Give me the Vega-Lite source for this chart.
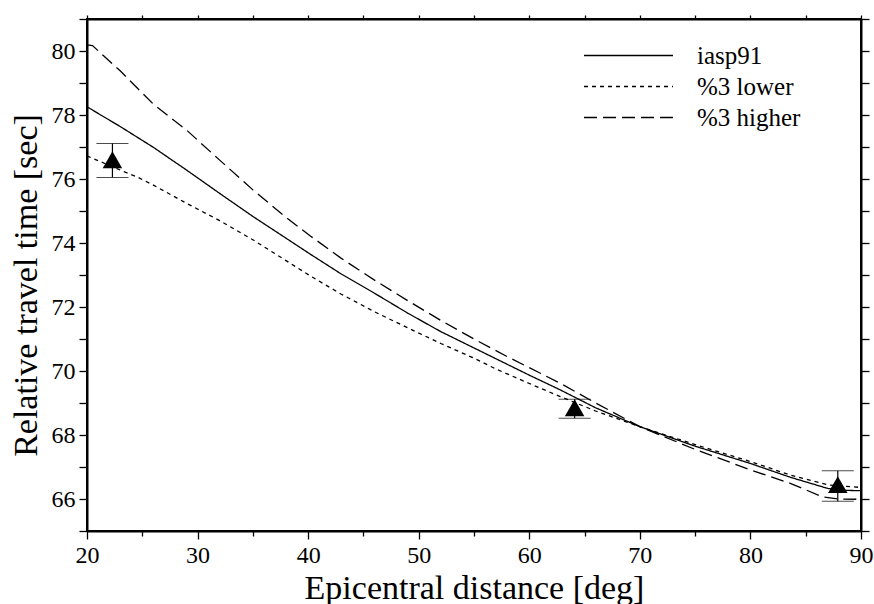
{
  "$schema": "https://vega.github.io/schema/vega-lite/v6.json",
  "width": 774,
  "height": 512,
  "autosize": {"type": "none"},
  "padding": {"left": 87, "top": 19, "right": 13, "bottom": 73},
  "background": "white",
  "config": {
    "font": "Liberation Serif",
    "view": {"stroke": "black", "strokeWidth": 2},
    "axis": {
      "domainColor": "black",
      "domainWidth": 2,
      "tickColor": "black",
      "tickWidth": 1.3,
      "grid": false,
      "labelFont": "Liberation Serif",
      "labelColor": "black",
      "labelFontSize": 24,
      "titleFont": "Liberation Serif",
      "titleColor": "black",
      "titleFontWeight": "normal",
      "titleFontSize": 34
    }
  },
  "resolve": {"axis": {"x": "independent", "y": "independent"}},
  "datasets": {
    "curves": [
      {"dist": 20, "time": 78.26, "model": "iasp91"},
      {"dist": 21, "time": 78.05, "model": "iasp91"},
      {"dist": 23, "time": 77.64, "model": "iasp91"},
      {"dist": 26, "time": 76.99, "model": "iasp91"},
      {"dist": 29, "time": 76.28, "model": "iasp91"},
      {"dist": 32, "time": 75.55, "model": "iasp91"},
      {"dist": 35, "time": 74.83, "model": "iasp91"},
      {"dist": 38, "time": 74.15, "model": "iasp91"},
      {"dist": 40.2, "time": 73.65, "model": "iasp91"},
      {"dist": 43, "time": 73.03, "model": "iasp91"},
      {"dist": 46, "time": 72.43, "model": "iasp91"},
      {"dist": 49, "time": 71.81, "model": "iasp91"},
      {"dist": 52, "time": 71.23, "model": "iasp91"},
      {"dist": 55, "time": 70.72, "model": "iasp91"},
      {"dist": 57, "time": 70.38, "model": "iasp91"},
      {"dist": 60, "time": 69.87, "model": "iasp91"},
      {"dist": 62.8, "time": 69.41, "model": "iasp91"},
      {"dist": 66, "time": 68.85, "model": "iasp91"},
      {"dist": 70, "time": 68.26, "model": "iasp91"},
      {"dist": 75, "time": 67.65, "model": "iasp91"},
      {"dist": 80, "time": 67.11, "model": "iasp91"},
      {"dist": 83.6, "time": 66.68, "model": "iasp91"},
      {"dist": 87, "time": 66.33, "model": "iasp91"},
      {"dist": 88.5, "time": 66.27, "model": "iasp91"},
      {"dist": 90, "time": 66.26, "model": "iasp91"},
      {"dist": 20, "time": 76.72, "model": "%3 lower"},
      {"dist": 23, "time": 76.28, "model": "%3 lower"},
      {"dist": 24.5, "time": 76.07, "model": "%3 lower"},
      {"dist": 26, "time": 75.81, "model": "%3 lower"},
      {"dist": 29, "time": 75.24, "model": "%3 lower"},
      {"dist": 32, "time": 74.7, "model": "%3 lower"},
      {"dist": 35, "time": 74.1, "model": "%3 lower"},
      {"dist": 38, "time": 73.45, "model": "%3 lower"},
      {"dist": 40.2, "time": 72.97, "model": "%3 lower"},
      {"dist": 43, "time": 72.4, "model": "%3 lower"},
      {"dist": 46, "time": 71.85, "model": "%3 lower"},
      {"dist": 49, "time": 71.35, "model": "%3 lower"},
      {"dist": 52, "time": 70.86, "model": "%3 lower"},
      {"dist": 55, "time": 70.4, "model": "%3 lower"},
      {"dist": 57, "time": 70.06, "model": "%3 lower"},
      {"dist": 60, "time": 69.61, "model": "%3 lower"},
      {"dist": 62.8, "time": 69.2, "model": "%3 lower"},
      {"dist": 66, "time": 68.75, "model": "%3 lower"},
      {"dist": 70, "time": 68.26, "model": "%3 lower"},
      {"dist": 75, "time": 67.7, "model": "%3 lower"},
      {"dist": 80, "time": 67.17, "model": "%3 lower"},
      {"dist": 83.6, "time": 66.75, "model": "%3 lower"},
      {"dist": 87, "time": 66.44, "model": "%3 lower"},
      {"dist": 90, "time": 66.36, "model": "%3 lower"},
      {"dist": 20, "time": 80.19, "model": "%3 higher"},
      {"dist": 20.5, "time": 80.17, "model": "%3 higher"},
      {"dist": 21.5, "time": 79.85, "model": "%3 higher"},
      {"dist": 23, "time": 79.38, "model": "%3 higher"},
      {"dist": 26, "time": 78.34, "model": "%3 higher"},
      {"dist": 29, "time": 77.53, "model": "%3 higher"},
      {"dist": 32, "time": 76.59, "model": "%3 higher"},
      {"dist": 35, "time": 75.66, "model": "%3 higher"},
      {"dist": 38, "time": 74.8, "model": "%3 higher"},
      {"dist": 40.2, "time": 74.22, "model": "%3 higher"},
      {"dist": 43, "time": 73.52, "model": "%3 higher"},
      {"dist": 46, "time": 72.84, "model": "%3 higher"},
      {"dist": 49, "time": 72.2, "model": "%3 higher"},
      {"dist": 52, "time": 71.58, "model": "%3 higher"},
      {"dist": 55, "time": 71.0, "model": "%3 higher"},
      {"dist": 58, "time": 70.45, "model": "%3 higher"},
      {"dist": 61, "time": 69.93, "model": "%3 higher"},
      {"dist": 63, "time": 69.58, "model": "%3 higher"},
      {"dist": 66, "time": 69.0, "model": "%3 higher"},
      {"dist": 70, "time": 68.26, "model": "%3 higher"},
      {"dist": 75, "time": 67.55, "model": "%3 higher"},
      {"dist": 80, "time": 66.91, "model": "%3 higher"},
      {"dist": 83.6, "time": 66.49, "model": "%3 higher"},
      {"dist": 86.5, "time": 66.07, "model": "%3 higher"},
      {"dist": 88, "time": 66.0, "model": "%3 higher"},
      {"dist": 90, "time": 65.99, "model": "%3 higher"}
    ],
    "obs": [
      {"dist": 22.3, "time": 76.6, "lo": 76.05, "hi": 77.11},
      {"dist": 64.1, "time": 68.85, "lo": 68.52, "hi": 69.12},
      {"dist": 87.9, "time": 66.45, "lo": 65.93, "hi": 66.88}
    ]
  },
  "layer": [
    {
      "data": {"name": "curves"},
      "mark": {"type": "line", "color": "black", "strokeWidth": 1.3, "clip": true},
      "encoding": {
        "x": {
          "field": "dist", "type": "quantitative",
          "scale": {"domain": [20, 90], "nice": false, "zero": false},
          "axis": {
            "orient": "bottom",
            "title": "Epicentral distance [deg]",
            "values": [20, 25, 30, 35, 40, 45, 50, 55, 60, 65, 70, 75, 80, 85, 90],
            "labelExpr": "datum.value % 10 === 0 ? datum.label : ''",
            "tickSize": {"condition": {"test": "datum.value % 10 === 0", "value": 8}, "value": 5},
            "labelPadding": 4,
            "titlePadding": 4,
            "labelFlush": false,
            "labelOverlap": false
          }
        },
        "y": {
          "field": "time", "type": "quantitative",
          "scale": {"domain": [65, 81], "nice": false, "zero": false},
          "axis": {
            "orient": "left",
            "title": "Relative travel time [sec]",
            "values": [65, 66, 67, 68, 69, 70, 71, 72, 73, 74, 75, 76, 77, 78, 79, 80, 81],
            "labelExpr": "datum.value % 2 === 0 ? datum.label : ''",
            "tickSize": 8,
            "labelPadding": 4,
            "titlePadding": 8,
            "titleY": 266,
            "labelFlush": false,
            "labelOverlap": false
          }
        },
        "strokeDash": {
          "field": "model", "type": "nominal",
          "scale": {"domain": ["iasp91", "%3 lower", "%3 higher"], "range": [[1, 0], [4, 4], [13, 6]]},
          "legend": {
            "title": null,
            "orient": "none",
            "legendX": 529,
            "legendY": 24,
            "padding": 0,
            "symbolType": "M-4,0H4",
            "symbolSize": 495,
            "symbolStrokeColor": "black",
            "symbolFillColor": "transparent",
            "symbolStrokeWidth": 1.3,
            "labelFont": "Liberation Serif",
            "labelFontSize": 25,
            "labelColor": "black",
            "labelOffset": 56,
            "rowPadding": 5
          }
        }
      }
    },
    {
      "data": {"name": "obs"},
      "mark": {"type": "errorbar", "ticks": {"size": 32, "color": "black", "strokeWidth": 1.2}, "rule": {"color": "black", "strokeWidth": 1.2}},
      "encoding": {
        "x": {"field": "dist", "type": "quantitative", "axis": null},
        "y": {"field": "lo", "type": "quantitative", "axis": null},
        "y2": {"field": "hi"}
      }
    },
    {
      "data": {"name": "obs"},
      "mark": {"type": "point", "shape": "triangle-up", "filled": true, "color": "black", "opacity": 1, "size": 380},
      "encoding": {
        "x": {
          "field": "dist", "type": "quantitative",
          "axis": {
            "orient": "top", "title": null, "labels": false,
            "values": [20, 25, 30, 35, 40, 45, 50, 55, 60, 65, 70, 75, 80, 85, 90],
            "tickSize": 4
          }
        },
        "y": {
          "field": "time", "type": "quantitative",
          "axis": {
            "orient": "right", "title": null, "labels": false,
            "values": [65, 66, 67, 68, 69, 70, 71, 72, 73, 74, 75, 76, 77, 78, 79, 80, 81],
            "tickSize": 8
          }
        }
      }
    }
  ]
}
